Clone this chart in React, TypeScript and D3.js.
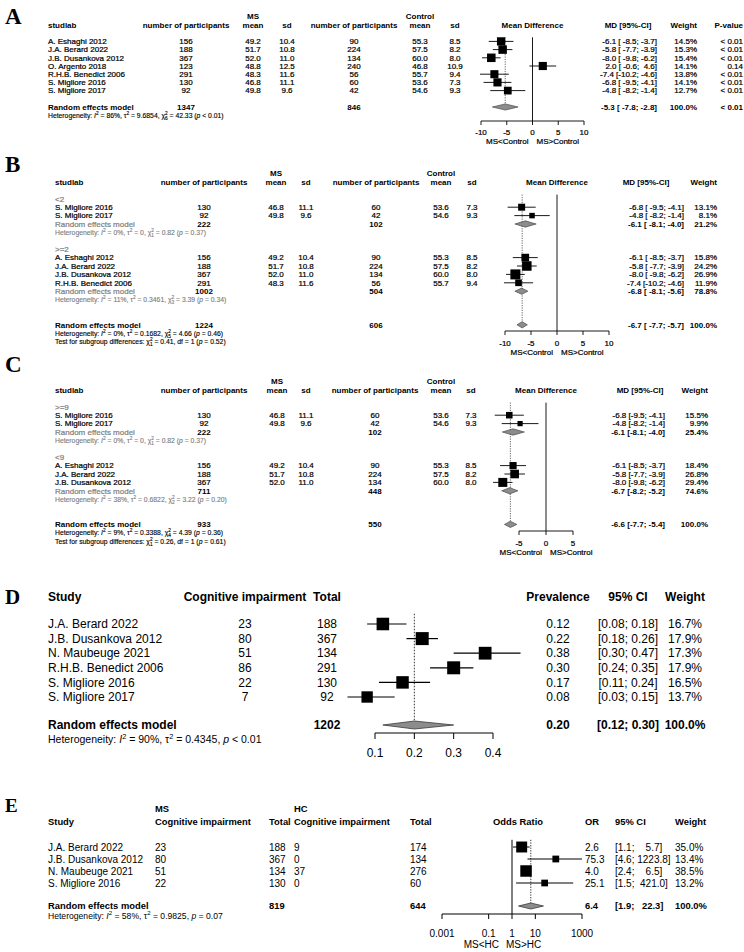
import React from "react";
import * as d3 from "d3";

const FONT = "'Liberation Sans', Arial, Helvetica, sans-serif";
const SERIF = "'Liberation Serif', 'Times New Roman', Times, serif";
const GRAY = "#808080";
const DIA_FILL = "#8c8c8c";
const DIA_STROKE = "#3a3a3a";

// ---------- Mean-difference studies (panels A-C)
const mdStudies = ["A. Eshaghi 2012", "J.A. Berard 2022", "J.B. Dusankova 2012", "O. Argento 2018", "R.H.B. Benedict 2006", "S. Migliore 2016", "S. Migliore 2017"];
const msN = [156, 188, 367, 123, 291, 130, 92];
const msMean = [49.2, 51.7, 52.0, 48.8, 48.3, 46.8, 49.8];
const msSd = [10.4, 10.8, 11.0, 12.5, 11.6, 11.1, 9.6];
const ctN = [90, 224, 134, 240, 56, 60, 42];
const ctMean = [55.3, 57.5, 60.0, 46.8, 55.7, 53.6, 54.6];
const ctSd = [8.5, 8.2, 8.0, 10.9, 9.4, 7.3, 9.3];
const mdEst = [-6.1, -5.8, -8.0, 2.0, -7.4, -6.8, -4.8];
const mdLo = [-8.5, -7.7, -9.8, -0.6, -10.2, -9.5, -8.2];
const mdHi = [-3.7, -3.9, -6.2, 4.6, -4.6, -4.1, -1.4];
const mdP = ["< 0.01", "< 0.01", "< 0.01", "0.14", "< 0.01", "< 0.01", "< 0.01"];
const mdHeaders = ["studlab", "number of participants", "mean", "sd", "number of participants", "mean", "sd", "Mean Difference", "MD [95%-CI]", "Weight", "P-value"];

// Panel A
const membersA = [0, 1, 2, 3, 4, 5, 6];
const weightA = [14.5, 15.3, 15.4, 14.1, 13.8, 14.1, 12.7];
const pooledA = { n1: 1347, n2: 846, est: -5.3, lo: -7.8, hi: -2.8, w: 100, p: "< 0.01" };
const hetA = ["86%", "9.6854", "6", "42.33", "< 0.01"];
const ticksA = [-10, -5, 0, 5, 10];

// Panel B
const labelsB = ["<2", ">=2"];
const membersB = [[5, 6], [0, 1, 2, 4]];
const weightsB = [[13.1, 8.1], [15.8, 24.2, 26.9, 11.9]];
const subPooledB = [
  { n1: 222, n2: 102, est: -6.1, lo: -8.1, hi: -4.0, w: 21.2 },
  { n1: 1002, n2: 504, est: -6.8, lo: -8.1, hi: -5.6, w: 78.8 },
];
const subHetB = [["0%", "0", "1", "0.82", "= 0.37"], ["11%", "0.3461", "3", "3.39", "= 0.34"]];
const pooledB = { n1: 1224, n2: 606, est: -6.7, lo: -7.7, hi: -5.7, w: 100 };
const hetB = ["0%", "0.1682", "5", "4.66", "= 0.46"];
const testB = ["1", "0.41", "1", "= 0.52"];
const ticksB = [-10, -5, 0, 5, 10];

// Panel C
const labelsC = [">=9", "<9"];
const membersC = [[5, 6], [0, 1, 2]];
const weightsC = [[15.5, 9.9], [18.4, 26.8, 29.4]];
const subPooledC = [
  { n1: 222, n2: 102, est: -6.1, lo: -8.1, hi: -4.0, w: 25.4 },
  { n1: 711, n2: 448, est: -6.7, lo: -8.2, hi: -5.2, w: 74.6 },
];
const subHetC = [["0%", "0", "1", "0.82", "= 0.37"], ["38%", "0.6822", "2", "3.22", "= 0.20"]];
const pooledC = { n1: 933, n2: 550, est: -6.6, lo: -7.7, hi: -5.4, w: 100 };
const hetC = ["9%", "0.3388", "4", "4.39", "= 0.36"];
const testC = ["1", "0.26", "1", "= 0.61"];
const ticksC = [-5, 0, 5];

// ---------- Panel D (prevalence)
const prevStudies = ["J.A. Berard 2022", "J.B. Dusankova 2012", "N. Maubeuge 2021", "R.H.B. Benedict 2006", "S. Migliore 2016", "S. Migliore 2017"];
const prevEvents = [23, 80, 51, 86, 22, 7];
const prevTotal = [188, 367, 134, 291, 130, 92];
const prevEst = [0.12, 0.22, 0.38, 0.30, 0.17, 0.08];
const prevLo = [0.08, 0.18, 0.30, 0.24, 0.11, 0.03];
const prevHi = [0.18, 0.26, 0.47, 0.35, 0.24, 0.15];
const prevW = [16.7, 17.9, 17.3, 17.9, 16.5, 13.7];
const prevPooled = { total: 1202, est: 0.20, lo: 0.12, hi: 0.30, w: 100 };
const prevHet = ["90%", "0.4345", "< 0.01"];
const prevTicks = [0.1, 0.2, 0.3, 0.4];

// ---------- Panel E (odds ratio)
const orStudies = ["J.A. Berard 2022", "J.B. Dusankova 2012", "N. Maubeuge 2021", "S. Migliore 2016"];
const orMsEvents = [23, 80, 51, 22];
const orMsTotal = [188, 367, 134, 130];
const orHcEvents = [9, 0, 37, 0];
const orHcTotal = [174, 134, 276, 60];
const orEst = [2.6, 75.3, 4.0, 25.1];
const orLo = [1.1, 4.6, 2.4, 1.5];
const orHi = [5.7, 1223.8, 6.5, 421.0];
const orW = [35.0, 13.4, 38.5, 13.2];
const orPooled = { ms: 819, hc: 644, est: 6.4, lo: 1.9, hi: 22.3, w: 100 };
const orHet = ["58%", "0.9825", "= 0.07"];
const orTicks = [0.001, 0.1, 1, 10, 1000];
const orTickLabels = ["0.001", "0.1", "1", "10", "1000"];

// ---------- helpers
type Seg = { t: string; k?: string; b?: string };

function hetSegs(v: string[]): Seg[] {
  const [i2, tau2, df, chi, p] = v;
  return [
    { t: "Heterogeneity: " }, { t: "I", k: "i" }, { t: "2", k: "sup" },
    { t: ` = ${i2}, \u03c4` }, { t: "2", k: "sup" }, { t: ` = ${tau2}, \u03c7` }, { t: "2", k: "ss", b: df },
    { t: ` = ${chi} (` }, { t: "p", k: "i" }, { t: ` ${p})` },
  ];
}
function testSegs(v: string[]): Seg[] {
  const [df, chi, d, p] = v;
  return [
    { t: "Test for subgroup differences: \u03c7" }, { t: "2", k: "ss", b: df },
    { t: ` = ${chi}, df = ${d} (` }, { t: "p", k: "i" }, { t: ` ${p})` },
  ];
}
function simpleHet(v: string[]): Seg[] {
  const [i2, tau2, p] = v;
  return [
    { t: "Heterogeneity: " }, { t: "I", k: "i" }, { t: "2", k: "sup" },
    { t: ` = ${i2}, \u03c4` }, { t: "2", k: "sup" }, { t: ` = ${tau2}, ` }, { t: "p", k: "i" }, { t: ` ${p}` },
  ];
}

function ciStrings(est: number[], lo: number[], hi: number[], dec: number, withEst = true) {
  const f = (v: number) => v.toFixed(dec);
  const wE = d3.max(est, (v) => f(v).length) as number;
  const wL = d3.max(lo, (v) => f(v).length) as number;
  const wH = d3.max(hi, (v) => f(v).length) as number;
  return est.map((e, i) =>
    (withEst ? f(e).padStart(wE) + " " : "") + "[" + f(lo[i]).padStart(wL) + "; " + f(hi[i]).padStart(wH) + "]"
  );
}

function T({ x, y, fs, anchor = "start", weight = "normal", fill = "#000", family = FONT, sw = 0, children }: any) {
  return (
    <text x={x} y={y + 0.35 * fs} fontSize={fs} textAnchor={anchor} fontWeight={weight} fill={fill}
      fontFamily={family} xmlSpace="preserve" style={{ whiteSpace: "pre" }}
      stroke={sw ? fill : undefined} strokeWidth={sw || undefined}>
      {children}
    </text>
  );
}

function Rich({ x, y, fs, fill = "#000", segs, sw = 0 }: any) {
  const kids: any[] = [];
  let cur = 0;
  segs.forEach((s: Seg, i: number) => {
    const k = s.k || "n";
    if (k === "n" || k === "i") {
      kids.push(<tspan key={i} dy={-cur} fontSize={fs} fontStyle={k === "i" ? "italic" : "normal"}>{s.t}</tspan>);
      cur = 0;
    } else if (k === "sup") {
      const t = -0.4 * fs;
      kids.push(<tspan key={i} dy={t - cur} fontSize={fs * 0.7}>{s.t}</tspan>);
      cur = t;
    } else {
      const t1 = -0.4 * fs, t2 = 0.3 * fs;
      kids.push(<tspan key={i + "a"} dy={t1 - cur} fontSize={fs * 0.7}>{s.t}</tspan>);
      kids.push(<tspan key={i + "b"} dx={-0.556 * fs * 0.7} dy={t2 - t1} fontSize={fs * 0.7}>{s.b}</tspan>);
      cur = t2;
    }
  });
  return (
    <text x={x} y={y + 0.35 * fs} fill={fill} fontFamily={FONT} fontSize={fs} xmlSpace="preserve" style={{ whiteSpace: "pre" }}
      stroke={sw ? fill : undefined} strokeWidth={sw || undefined}>
      {kids}
    </text>
  );
}

// ---------- generic mean-difference panel (A, B, C)
function MDPanel({ cfg, groups, overall, hetOverall, test }: any) {
  const x = d3.scaleLinear().domain(cfg.xDomain).range(cfg.xRange);
  const ly = d3.scaleLinear().domain([0, 1]).range([cfg.y0, cfg.y0 + cfg.s]);
  const fs = cfg.fs, hfs = cfg.hfs, c = cfg.cols, sw = cfg.sw;
  const items: any[] = [];
  let idx = 2;
  groups.forEach((g: any) => {
    if (g.label) items.push({ type: "label", idx: idx++, text: g.label });
    g.members.forEach((m: number, j: number) => items.push({ type: "study", idx: idx++, m, w: g.weights[j] }));
    if (g.pooled) {
      items.push({ type: "subrem", idx: idx++, p: g.pooled });
      items.push({ type: "subhet", idx: idx++, segs: hetSegs(g.het) });
    }
    idx++;
  });
  const oIdx = idx + cfg.extraGap;
  const est: number[] = [], lo: number[] = [], hi: number[] = [];
  items.forEach((it) => {
    if (it.type === "study") { est.push(mdEst[it.m]); lo.push(mdLo[it.m]); hi.push(mdHi[it.m]); }
    if (it.type === "subrem") { est.push(it.p.est); lo.push(it.p.lo); hi.push(it.p.hi); }
  });
  est.push(overall.est); lo.push(overall.lo); hi.push(overall.hi);
  const ci = ciStrings(est, lo, hi, 1);
  let k = 0;
  items.forEach((it) => { if (it.type === "study" || it.type === "subrem") it.ci = ci[k++]; });
  const overallCi = ci[k];
  const topY = ly(1.5);
  const oY = ly(oIdx);
  const dh = cfg.s * 0.75;
  const diamond = (p: any, y: number) =>
    `M${x(p.lo)},${y}L${x(p.est)},${y - dh / 2}L${x(p.hi)},${y}L${x(p.est)},${y + dh / 2}Z`;
  const x0 = x(0);
  const [xa, xb] = [x(cfg.ticks[0]), x(cfg.ticks[cfg.ticks.length - 1])];

  return (
    <g>
      <T x={5} y={cfg.letterY} fs={cfg.letterFs} weight="bold" family={SERIF}>{cfg.letter}</T>
      <T x={c.m1} y={cfg.y0 - 9} fs={fs} anchor="middle" weight="bold">MS</T>
      <T x={c.m2} y={cfg.y0 - 9} fs={fs} anchor="middle" weight="bold">Control</T>
      <T x={c.study} y={cfg.y0} fs={fs} weight="bold">{mdHeaders[0]}</T>
      <T x={c.n1} y={cfg.y0} fs={fs} weight="bold" anchor="middle">{mdHeaders[1]}</T>
      <T x={c.m1} y={cfg.y0} fs={fs} weight="bold" anchor="middle">{mdHeaders[2]}</T>
      <T x={c.s1} y={cfg.y0} fs={fs} weight="bold" anchor="middle">{mdHeaders[3]}</T>
      <T x={c.n2} y={cfg.y0} fs={fs} weight="bold" anchor="middle">{mdHeaders[4]}</T>
      <T x={c.m2} y={cfg.y0} fs={fs} weight="bold" anchor="middle">{mdHeaders[5]}</T>
      <T x={c.s2} y={cfg.y0} fs={fs} weight="bold" anchor="middle">{mdHeaders[6]}</T>
      <T x={x0} y={cfg.y0} fs={fs} weight="bold" anchor="middle">{mdHeaders[7]}</T>
      <T x={c.ciHead} y={cfg.y0} fs={fs} weight="bold" anchor="middle">{mdHeaders[8]}</T>
      <T x={c.wR} y={cfg.y0} fs={fs} weight="bold" anchor="end">{mdHeaders[9]}</T>
      {c.pR && <T x={c.pR} y={cfg.y0} fs={fs} weight="bold" anchor="end">{mdHeaders[10]}</T>}

      {/* reference lines */}
      <line x1={x0} x2={x0} y1={topY} y2={cfg.axisY} stroke="#000" strokeWidth={0.9} />
      <line x1={x(overall.est)} x2={x(overall.est)} y1={topY} y2={oY} stroke="#555" strokeWidth={0.9} strokeDasharray="1.2,1.2" />

      {items.map((it, i) => {
        const y = ly(it.idx);
        if (it.type === "label") return <T key={i} x={c.study} y={y} fs={fs} fill={GRAY} sw={sw}>{it.text}</T>;
        if (it.type === "subhet") return <Rich key={i} x={c.study} y={y} fs={hfs} fill={GRAY} segs={it.segs} sw={sw * 0.6} />;
        if (it.type === "subrem") {
          const p = it.p;
          return (
            <g key={i}>
              <T x={c.study} y={y} fs={fs} fill={GRAY} sw={sw}>Random effects model</T>
              <T x={c.n1} y={y} fs={fs} weight="bold" anchor="middle">{p.n1}</T>
              <T x={c.n2} y={y} fs={fs} weight="bold" anchor="middle">{p.n2}</T>
              <path d={diamond(p, y)} fill={DIA_FILL} stroke={DIA_STROKE} strokeWidth={0.6} />
              <T x={c.ciR} y={y} fs={fs} weight="bold" anchor="end">{it.ci}</T>
              <T x={c.wR} y={y} fs={fs} weight="bold" anchor="end">{p.w.toFixed(1) + "%"}</T>
            </g>
          );
        }
        const m = it.m;
        const sz = cfg.kSq * Math.sqrt(it.w);
        return (
          <g key={i}>
            <T x={c.study} y={y} fs={fs} sw={sw}>{mdStudies[m]}</T>
            <T x={c.n1} y={y} fs={fs} anchor="middle" sw={sw}>{msN[m]}</T>
            <T x={c.m1} y={y} fs={fs} anchor="middle" sw={sw}>{msMean[m].toFixed(1)}</T>
            <T x={c.s1} y={y} fs={fs} anchor="middle" sw={sw}>{msSd[m].toFixed(1)}</T>
            <T x={c.n2} y={y} fs={fs} anchor="middle" sw={sw}>{ctN[m]}</T>
            <T x={c.m2} y={y} fs={fs} anchor="middle" sw={sw}>{ctMean[m].toFixed(1)}</T>
            <T x={c.s2} y={y} fs={fs} anchor="middle" sw={sw}>{ctSd[m].toFixed(1)}</T>
            <line x1={x(mdLo[m])} x2={x(mdHi[m])} y1={y} y2={y} stroke="#000" strokeWidth={0.9} />
            <rect x={x(mdEst[m]) - sz / 2} y={y - sz / 2} width={sz} height={sz} fill="#000" />
            <T x={c.ciR} y={y} fs={fs} anchor="end" sw={sw}>{it.ci}</T>
            <T x={c.wR} y={y} fs={fs} anchor="end" sw={sw}>{it.w.toFixed(1) + "%"}</T>
            {c.pR && <T x={c.pR} y={y} fs={fs} anchor="end" sw={sw}>{mdP[m]}</T>}
          </g>
        );
      })}

      {/* overall */}
      <T x={c.study} y={oY} fs={fs} weight="bold">Random effects model</T>
      <T x={c.n1} y={oY} fs={fs} weight="bold" anchor="middle">{overall.n1}</T>
      <T x={c.n2} y={oY} fs={fs} weight="bold" anchor="middle">{overall.n2}</T>
      <path d={diamond(overall, oY)} fill={DIA_FILL} stroke={DIA_STROKE} strokeWidth={0.6} />
      <T x={c.ciR} y={oY} fs={fs} weight="bold" anchor="end">{overallCi}</T>
      <T x={c.wR} y={oY} fs={fs} weight="bold" anchor="end">{overall.w.toFixed(1) + "%"}</T>
      {c.pR && <T x={c.pR} y={oY} fs={fs} weight="bold" anchor="end">{overall.p}</T>}
      <Rich x={c.study} y={ly(oIdx + 1)} fs={hfs} segs={hetSegs(hetOverall)} sw={sw * 0.6} />
      {test && <Rich x={c.study} y={ly(oIdx + 2)} fs={hfs} segs={testSegs(test)} sw={sw * 0.6} />}

      {/* axis */}
      <line x1={xa} x2={xb} y1={cfg.axisY} y2={cfg.axisY} stroke="#000" strokeWidth={0.9} />
      {cfg.ticks.map((t: number) => (
        <g key={t}>
          <line x1={x(t)} x2={x(t)} y1={cfg.axisY} y2={cfg.axisY + 4} stroke="#000" strokeWidth={0.9} />
          <T x={x(t)} y={cfg.tickY} fs={fs} anchor="middle" sw={sw}>{String(t)}</T>
        </g>
      ))}
      <T x={x0 - 4} y={cfg.sideY} fs={fs} anchor="end" sw={sw}>MS&lt;Control</T>
      <T x={x0 + 4} y={cfg.sideY} fs={fs} sw={sw}>MS&gt;Control</T>
    </g>
  );
}

const cfgA = {
  letter: "A", letterY: 16, letterFs: 23, y0: 25, s: 8.2, fs: 8, hfs: 6.8, extraGap: 0, sw: 0.22,
  cols: { study: 48, n1: 186, m1: 253, s1: 287, n2: 354, m2: 420, s2: 455, ciHead: 628, ciR: 657, wR: 697, pR: 743 },
  xDomain: [-10, 10], xRange: [481, 584], ticks: ticksA, axisY: 121, tickY: 132, sideY: 141, kSq: 2.17,
};
const cfgB = {
  letter: "B", letterY: 164, letterFs: 23, y0: 182, s: 8.4, fs: 8, hfs: 6.8, extraGap: 1, sw: 0.22,
  cols: { study: 55, n1: 204, m1: 276, s1: 306, n2: 376, m2: 441, s2: 472, ciHead: 646, ciR: 684, wR: 717 },
  xDomain: [-10, 10], xRange: [505, 609], ticks: ticksB, axisY: 331, tickY: 343, sideY: 352, kSq: 1.93,
};
const cfgC = {
  letter: "C", letterY: 364, letterFs: 23, y0: 390, s: 8.4, fs: 8, hfs: 6.8, extraGap: 1, sw: 0.22,
  cols: { study: 55, n1: 204, m1: 277, s1: 306, n2: 375, m2: 441, s2: 471, ciHead: 640, ciR: 665, wR: 708 },
  xDomain: [-5, 5], xRange: [519, 573], ticks: ticksC, axisY: 531, tickY: 543, sideY: 552, kSq: 1.66,
};

function PanelD() {
  const x = d3.scaleLinear().domain([0.1, 0.4]).range([375, 493]);
  const ry = d3.scaleLinear().domain([0, 1]).range([624, 638.6]);
  const fs = 12;
  const hY = 597, remY = 725, axisY = 733;
  const c = { study: 48, ev: 245, tot: 327, prev: 558, ci: 628, w: 685 };
  const ci = ciStrings([...prevEst, prevPooled.est], [...prevLo, prevPooled.lo], [...prevHi, prevPooled.hi], 2, false);
  const dh = 8;
  const p = prevPooled;
  return (
    <g>
      <T x={5} y={hY} fs={21} weight="bold" family={SERIF}>D</T>
      <T x={c.study} y={hY} fs={fs} weight="bold">Study</T>
      <T x={c.ev} y={hY} fs={fs} weight="bold" anchor="middle">Cognitive impairment</T>
      <T x={c.tot} y={hY} fs={fs} weight="bold" anchor="middle">Total</T>
      <T x={c.prev} y={hY} fs={fs} weight="bold" anchor="middle">Prevalence</T>
      <T x={c.ci} y={hY} fs={fs} weight="bold" anchor="middle">95% CI</T>
      <T x={c.w} y={hY} fs={fs} weight="bold" anchor="middle">Weight</T>
      <line x1={x(p.est)} x2={x(p.est)} y1={ry(-0.7)} y2={remY} stroke="#333" strokeWidth={1} strokeDasharray="1.5,1.5" />
      {prevStudies.map((s, i) => {
        const y = ry(i);
        const sz = 3.07 * Math.sqrt(prevW[i]);
        return (
          <g key={s}>
            <T x={c.study} y={y} fs={fs}>{s}</T>
            <T x={c.ev} y={y} fs={fs} anchor="middle">{prevEvents[i]}</T>
            <T x={c.tot} y={y} fs={fs} anchor="middle">{prevTotal[i]}</T>
            <line x1={x(prevLo[i])} x2={x(prevHi[i])} y1={y} y2={y} stroke="#000" strokeWidth={1.2} />
            <rect x={x(prevEst[i]) - sz / 2} y={y - sz / 2} width={sz} height={sz} fill="#000" />
            <T x={c.prev} y={y} fs={fs} anchor="middle">{prevEst[i].toFixed(2)}</T>
            <T x={c.ci} y={y} fs={fs} anchor="middle">{ci[i]}</T>
            <T x={c.w} y={y} fs={fs} anchor="middle">{prevW[i].toFixed(1) + "%"}</T>
          </g>
        );
      })}
      <T x={c.study} y={remY} fs={fs} weight="bold">Random effects model</T>
      <T x={c.tot} y={remY} fs={fs} weight="bold" anchor="middle">{p.total}</T>
      <path d={`M${x(p.lo)},${remY}L${x(p.est)},${remY - dh / 2}L${x(p.hi)},${remY}L${x(p.est)},${remY + dh / 2}Z`}
        fill={DIA_FILL} stroke={DIA_STROKE} strokeWidth={0.8} />
      <T x={c.prev} y={remY} fs={fs} weight="bold" anchor="middle">{p.est.toFixed(2)}</T>
      <T x={c.ci} y={remY} fs={fs} weight="bold" anchor="middle">{ci[ci.length - 1]}</T>
      <T x={c.w} y={remY} fs={fs} weight="bold" anchor="middle">{p.w.toFixed(1) + "%"}</T>
      <Rich x={c.study} y={739.5} fs={10.5} segs={simpleHet(prevHet)} />
      <line x1={x(prevTicks[0])} x2={x(prevTicks[prevTicks.length - 1])} y1={axisY} y2={axisY} stroke="#000" strokeWidth={1} />
      {prevTicks.map((t) => (
        <g key={t}>
          <line x1={x(t)} x2={x(t)} y1={axisY} y2={axisY + 6} stroke="#000" strokeWidth={1} />
          <T x={x(t)} y={753} fs={fs} anchor="middle">{t.toFixed(1)}</T>
        </g>
      ))}
    </g>
  );
}

function PanelE() {
  const x = d3.scaleLog().domain([0.001, 1000]).range([442, 582]).clamp(true);
  const ry = d3.scaleLinear().domain([0, 1]).range([847, 859]);
  const fs = 10, hfs = 9.4;
  const topY = 809, hY = 822, remY = 906, axisY = 914;
  const c = { study: 48, msEv: 155, msTot: 269, hcEv: 294, hcTot: 410, head: 518, or: 585, ci: 615, w: 675 };
  const ci = ciStrings([...orEst, orPooled.est], [...orLo, orPooled.lo], [...orHi, orPooled.hi], 1, false);
  const p = orPooled;
  const dh = 6;
  const x1 = x(1);
  return (
    <g>
      <T x={5} y={805} fs={19} weight="bold" family={SERIF}>E</T>
      <T x={c.msEv} y={topY} fs={hfs} weight="bold">MS</T>
      <T x={c.hcEv} y={topY} fs={hfs} weight="bold">HC</T>
      <T x={c.study} y={hY} fs={hfs} weight="bold">Study</T>
      <T x={c.msEv} y={hY} fs={hfs} weight="bold">Cognitive impairment</T>
      <T x={c.msTot} y={hY} fs={hfs} weight="bold">Total</T>
      <T x={c.hcEv} y={hY} fs={hfs} weight="bold">Cognitive impairment</T>
      <T x={c.hcTot} y={hY} fs={hfs} weight="bold">Total</T>
      <T x={c.head} y={hY} fs={hfs} weight="bold" anchor="middle">Odds Ratio</T>
      <T x={c.or} y={hY} fs={hfs} weight="bold">OR</T>
      <T x={c.ci} y={hY} fs={hfs} weight="bold">95% CI</T>
      <T x={c.w} y={hY} fs={hfs} weight="bold">Weight</T>
      <line x1={x1} x2={x1} y1={ry(-0.6)} y2={axisY} stroke="#000" strokeWidth={1} />
      <line x1={x(p.est)} x2={x(p.est)} y1={ry(-0.6)} y2={remY} stroke="#333" strokeWidth={1} strokeDasharray="1.3,1.3" />
      {orStudies.map((s, i) => {
        const y = ry(i);
        const sz = 1.85 * Math.sqrt(orW[i]);
        return (
          <g key={s}>
            <T x={c.study} y={y} fs={fs}>{s}</T>
            <T x={c.msEv} y={y} fs={fs}>{orMsEvents[i]}</T>
            <T x={c.msTot} y={y} fs={fs}>{orMsTotal[i]}</T>
            <T x={c.hcEv} y={y} fs={fs}>{orHcEvents[i]}</T>
            <T x={c.hcTot} y={y} fs={fs}>{orHcTotal[i]}</T>
            <line x1={x(orLo[i])} x2={x(orHi[i])} y1={y} y2={y} stroke="#000" strokeWidth={1} />
            <rect x={x(orEst[i]) - sz / 2} y={y - sz / 2} width={sz} height={sz} fill="#000" />
            <T x={c.or} y={y} fs={fs}>{orEst[i].toFixed(1)}</T>
            <T x={c.ci} y={y} fs={fs}>{ci[i]}</T>
            <T x={c.w} y={y} fs={fs}>{orW[i].toFixed(1) + "%"}</T>
          </g>
        );
      })}
      <T x={c.study} y={remY} fs={hfs} weight="bold">Random effects model</T>
      <T x={c.msTot} y={remY} fs={hfs} weight="bold">{p.ms}</T>
      <T x={c.hcTot} y={remY} fs={hfs} weight="bold">{p.hc}</T>
      <path d={`M${x(p.lo)},${remY}L${x(p.est)},${remY - dh / 2}L${x(p.hi)},${remY}L${x(p.est)},${remY + dh / 2}Z`}
        fill={DIA_FILL} stroke={DIA_STROKE} strokeWidth={0.8} />
      <T x={c.or} y={remY} fs={hfs} weight="bold">{p.est.toFixed(1)}</T>
      <T x={c.ci} y={remY} fs={hfs} weight="bold">{ci[ci.length - 1]}</T>
      <T x={c.w} y={remY} fs={hfs} weight="bold">{p.w.toFixed(1) + "%"}</T>
      <Rich x={c.study} y={915.5} fs={8.6} segs={simpleHet(orHet)} />
      <line x1={x(orTicks[0])} x2={x(orTicks[orTicks.length - 1])} y1={axisY} y2={axisY} stroke="#000" strokeWidth={1} />
      {orTicks.map((t, i) => (
        <g key={t}>
          <line x1={x(t)} x2={x(t)} y1={axisY} y2={axisY + 5} stroke="#000" strokeWidth={1} />
          <T x={x(t)} y={933} fs={fs} anchor="middle">{orTickLabels[i]}</T>
        </g>
      ))}
      <T x={x1 - 13} y={944} fs={fs} anchor="end">MS&lt;HC</T>
      <T x={x1 - 6} y={944} fs={fs}>MS&gt;HC</T>
    </g>
  );
}

export default function App() {
  const groupsA = [{ members: membersA, weights: weightA }];
  const groupsB = labelsB.map((l, i) => ({ label: l, members: membersB[i], weights: weightsB[i], pooled: subPooledB[i], het: subHetB[i] }));
  const groupsC = labelsC.map((l, i) => ({ label: l, members: membersC[i], weights: weightsC[i], pooled: subPooledC[i], het: subHetC[i] }));
  return (
    <svg width={744} height={952} viewBox="0 0 744 952" style={{ position: "absolute", left: 0, top: 0, background: "#fff" }}>
      <rect x={0} y={0} width={744} height={952} fill="#fff" />
      <MDPanel cfg={cfgA} groups={groupsA} overall={pooledA} hetOverall={hetA} />
      <MDPanel cfg={cfgB} groups={groupsB} overall={pooledB} hetOverall={hetB} test={testB} />
      <MDPanel cfg={cfgC} groups={groupsC} overall={pooledC} hetOverall={hetC} test={testC} />
      <PanelD />
      <PanelE />
    </svg>
  );
}
